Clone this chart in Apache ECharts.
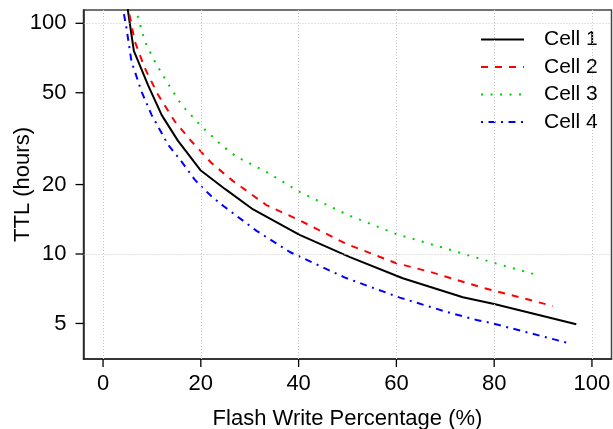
<!DOCTYPE html>
<html><head><meta charset="utf-8">
<script src="https://cdn.jsdelivr.net/npm/echarts@6/dist/echarts.min.js"></script>
<style>html,body{margin:0;padding:0;background:#fff}#c{width:613px;height:429px}</style>
</head><body><div id="c"></div>
<script>
const xTicks = [0, 20, 40, 60, 80, 100];
const yTicks = [5, 10, 20, 50, 100];
const xGrid = [0, 20, 40, 60, 80, 100];
const yGrid = [10, 100];
const seriesNames = ['Cell 1', 'Cell 2', 'Cell 3', 'Cell 4'];
const cell1 = [[4.8,125],[6.3,76],[9.2,54],[12,40],[15.3,31],[20,23],[25,19.1],[30.7,15.6],[40.2,12.1],[50.5,9.7],[61.3,7.85],[73.6,6.5],[80,6.07],[96.8,4.96]];
const cell2 = [[4.85,125],[6.48,83.6],[8.53,64],[11.25,49],[14.66,37.6],[18.08,30.8],[22.17,24.8],[26.6,20.7],[33.4,16.3],[40.2,14.0],[49.8,11.05],[60,9.12],[66.8,8.38],[77.7,7.14],[80.1,6.93],[92,5.95]];
const cell3 = [[6.55,118],[8.53,83.6],[10.57,68.4],[12.97,56.1],[16.03,44.4],[20.1,35.8],[24.5,29.3],[27.3,26.4],[33.4,22.7],[40.2,18.6],[50.1,14.75],[60,12.2],[68.9,10.75],[80,9.15],[89.3,8.05]];
const cell4 = [[4.0,118],[4.79,95.4],[5.81,68.4],[7.85,50.7],[9.9,40.2],[13.29,29.8],[16.03,25.2],[18.75,21],[20.1,19.6],[22.17,17.8],[24.7,16.1],[31.4,12.6],[38.2,10.2],[49.5,7.9],[60.7,6.47],[70.2,5.62],[76.4,5.18],[79.1,5.04],[94.8,4.13]];

const X_MIN = -4, X_MAX = 104, Y_MIN = 3.507, Y_MAX = 114.2;
const FONT = 'Liberation Sans';
const chart = echarts.init(document.getElementById('c'), null, {renderer: 'canvas'});
const styles = [
  {color: '#000000', type: 'solid'},
  {color: '#ff0000', type: [7, 7]},
  {color: '#00cd00', type: [2, 7.5]},
  {color: '#0000ff', type: [2, 5.5, 7, 5.5]}
];
const datas = [cell1, cell2, cell3, cell4];
const TICK = 8;
function tickRenderer(dir) {
  return function (params, api) {
    const p = api.coord([api.value(0), api.value(1)]);
    const shape = dir === 'y'
      ? {x1: p[0] - TICK, y1: p[1], x2: p[0], y2: p[1]}
      : {x1: p[0], y1: p[1], x2: p[0], y2: p[1] + TICK};
    return {type: 'line', shape: shape, style: {stroke: '#000', lineWidth: 1.3}};
  };
}
const series = [{
  type: 'line', data: [], silent: true, z: 1,
  markLine: {
    silent: true, symbol: 'none', label: {show: false}, animation: false,
    lineStyle: {color: '#c8c8c8', width: 1, type: [1, 2]},
    data: xGrid.map(v => ({xAxis: v})).concat(yGrid.map(v => ({yAxis: v})))
  }
}, {
  type: 'custom', silent: true, clip: false, z: 5,
  data: yTicks.map(v => [X_MIN, v]), encode: {x: 0, y: 1},
  renderItem: tickRenderer('y')
}, {
  type: 'custom', silent: true, clip: false, z: 5,
  data: xTicks.map(v => [v, Y_MIN]), encode: {x: 0, y: 1},
  renderItem: tickRenderer('x')
}];
seriesNames.forEach((n, i) => {
  series.push({
    name: n, type: 'line', data: datas[i], symbol: 'none', showSymbol: false, z: 3,
    clip: true,
    lineStyle: {color: styles[i].color, type: styles[i].type, width: 2},
    itemStyle: {color: styles[i].color, opacity: 0}
  });
});
chart.setOption({
  animation: false,
  backgroundColor: '#ffffff',
  grid: {left: 83.5, right: 1.5, top: 10, bottom: 70, show: true, borderColor: '#444', borderWidth: 1.5, backgroundColor: 'transparent', containLabel: false, outerBoundsMode: 'none'},
  legend: {
    data: seriesNames, orient: 'vertical', left: 480, top: 29, padding: 0,
    itemWidth: 43, itemHeight: 14, itemGap: 6.5,
    itemStyle: {opacity: 0},
    textStyle: {fontFamily: FONT, fontSize: 21, color: '#000', padding: [0, 0, 0, 15]},
    backgroundColor: 'transparent'
  },
  xAxis: {
    type: 'value', min: X_MIN, max: X_MAX,
    name: 'Flash Write Percentage (%)', nameLocation: 'middle', nameGap: 48.5, nameMoveOverlap: false,
    nameTextStyle: {fontFamily: FONT, fontSize: 22, color: '#000'},
    axisLine: {show: true, onZero: false, lineStyle: {color: '#222', width: 1.5}},
    axisTick: {show: false},
    axisLabel: {show: true, customValues: xTicks, fontFamily: FONT, fontSize: 22, color: '#000', margin: 14},
    splitLine: {show: false}
  },
  yAxis: {
    type: 'log', min: Y_MIN, max: Y_MAX,
    name: 'TTL (hours)', nameLocation: 'middle', nameGap: 50, nameMoveOverlap: false,
    nameTextStyle: {fontFamily: FONT, fontSize: 22, color: '#000'},
    axisLine: {show: true, onZero: false, lineStyle: {color: '#222', width: 1.5}},
    axisTick: {show: false},
    axisLabel: {show: true, customValues: yTicks, fontFamily: FONT, fontSize: 22, color: '#000', margin: 17},
    splitLine: {show: false}
  },
  series: series
});
</script></body></html>
